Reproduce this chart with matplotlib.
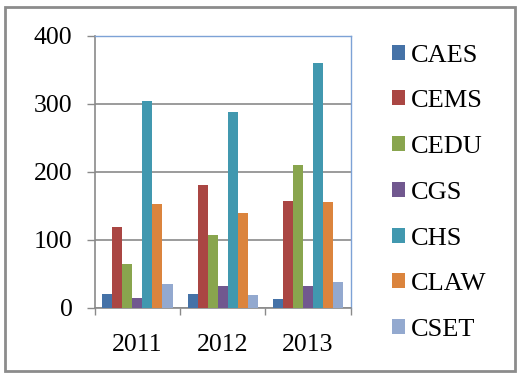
import matplotlib.pyplot as plt
from matplotlib.patches import Rectangle
import numpy as np

years = ['2011', '2012', '2013']
series = ['CAES', 'CEMS', 'CEDU', 'CGS', 'CHS', 'CLAW', 'CSET']
caes = [21, 21, 13]
cems = [119, 181, 158]
cedu = [65, 108, 211]
cgs = [15, 32, 32]
chs = [304, 288, 360]
claw = [153, 139, 156]
cset = [36, 19, 38]
colors = ['#4572A7', '#AA4643', '#89A54E', '#71588F', '#4198AF', '#DB843D', '#93A9CF']

plt.rcParams['font.family'] = ['Liberation Serif', 'DejaVu Serif']

fig = plt.figure(figsize=(5.17, 3.74), dpi=100)
ax = fig.add_axes([94.7 / 517, 1 - 308 / 374, 256 / 517, 272 / 374])

values = [caes, cems, cedu, cgs, chs, claw, cset]
x = np.arange(len(years))
w = 1 / 8.5
for i, (name, vals) in enumerate(zip(series, values)):
    ax.bar(x + (i - 3) * w, vals, w, color=colors[i], label=name, zorder=3)

ax.set_xlim(-0.5, 2.5)
ax.set_ylim(0, 400)
ax.set_yticks([0, 100, 200, 300, 400])
ax.grid(axis='y', color='#8a8a8a', lw=1.2, zorder=0)

ax.set_xticks([-0.5, 0.5, 1.5, 2.5])
ax.set_xticklabels([])
ax.set_xticks(x, minor=True)
ax.set_xticklabels(years, minor=True)
ax.tick_params(axis='x', which='major', length=5, width=1, color='#8a8a8a')
ax.tick_params(axis='x', which='minor', length=0, pad=18.5, labelsize=18.5)
ax.tick_params(axis='y', length=6, width=1, color='#8a8a8a', pad=10, labelsize=18.5)

for s in ['left', 'bottom']:
    ax.spines[s].set_color('#8a8a8a')
    ax.spines[s].set_linewidth(1.2)
for s in ['top', 'right']:
    ax.spines[s].set_color('#7da2d6')
    ax.spines[s].set_linewidth(1)

leg = fig.legend(loc='upper left', bbox_to_anchor=(381 / 517, 1 - 34 / 374),
                 frameon=False, fontsize=19, handlelength=0.5, handleheight=0.5,
                 handletextpad=0.22, labelspacing=0.9, borderaxespad=0)

fig.patches.append(Rectangle((5 / 517, 1 - 371 / 374), 510 / 517, 364 / 374,
                             transform=fig.transFigure, fill=False,
                             edgecolor='#8c8c8c', lw=2))

fig.savefig('out.png', dpi=100)
